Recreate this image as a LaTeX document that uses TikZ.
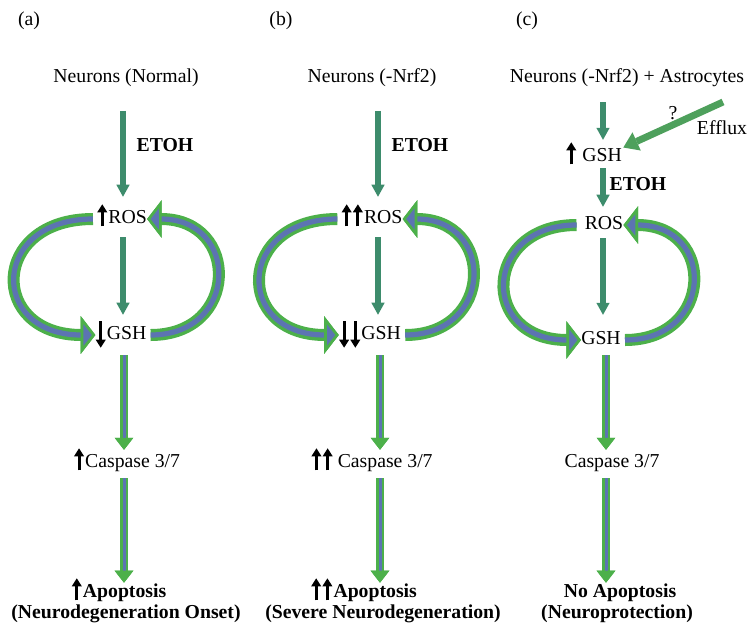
\documentclass[tikz,border=0pt]{standalone}
\usepackage{fontspec}
\setmainfont{Liberation Serif}
\usetikzlibrary{arrows.meta}

\definecolor{thingreen}{RGB}{61,140,108}
\definecolor{fatgreen}{RGB}{76,176,74}
\definecolor{fatblue}{RGB}{92,116,178}
\definecolor{effgreen}{RGB}{78,160,92}

% bold black up / down marks put in front of a label
\newcommand{\upar}{\tikz[baseline=0pt]\draw[black, line width=2.3pt,
  -{Triangle[length=6pt, width=7.6pt, line width=0pt]}] (0pt,-2pt) -- (0pt,14.5pt);\kern0.8pt}
\newcommand{\dnar}{\tikz[baseline=0pt]\draw[black, line width=2.3pt,
  -{Triangle[length=6pt, width=7.6pt, line width=0pt]}] (0pt,14pt) -- (0pt,-6pt);\kern0.8pt}

\begin{document}
\begin{tikzpicture}[x=0.75pt, y=-0.75pt, line join=miter]

    % one unit is one pixel of the 750 x 633 frame, y grows downwards
    \tikzset{%
      apply style/.code = {\tikzset{#1}},
      lbl/.style        = {inner sep=0pt, text height=10pt, text depth=3pt,
                           font=\fontsize{14.8}{17}\selectfont},
      bold/.style       = {lbl, font=\fontsize{14.8}{17}\selectfont\bfseries},
      thinarr/.style    = {line width=4.5pt, draw=thingreen,
                           -{Triangle[length=9pt, width=10pt, line width=0pt]}},
      fatarr/.style     = {line width=6pt, draw=fatgreen,
                           -{Triangle[length=9pt, width=14pt, line width=0pt, color=fatgreen, fill=fatgreen]}},
      fatcore/.style    = {fatarr, line width=2.25pt, draw=fatblue},
      looparr/.style    = {line width=9pt, draw=fatgreen,
                           -{Triangle[length=11pt, width=28pt, line width=2pt, color=fatgreen, fill=fatblue]}},
      loopcore/.style   = {looparr, line width=3.9pt, draw=fatblue},
      effluxarr/.style  = {line width=5.2pt, draw=effgreen,
                           -{Triangle[length=11pt, width=15pt, line width=0pt]}}
    }

    \useasboundingbox (0,0) rectangle (750,633);

    % columns of the straight arrows
    \coordinate (colA) at (123,0);
    \coordinate (fatA) at (124,0);
    \coordinate (colB) at (378,0);
    \coordinate (fatB) at (380,0);
    \coordinate (colC) at (603,0);
    \coordinate (fatC) at (606,0);

    % (a) normal neurons
    \node[lbl]  (labA)  at (29,21)   {(a)};
    \node[lbl]  (srcA)  at (126,78)  {Neurons (Normal)};
    \node[bold] (etohA) at (165,147) {ETOH};
    \node[lbl]  (rosA)  at (122,219) {\upar ROS};
    \node[lbl]  (gshA)  at (121,335) {\dnar GSH};
    \node[lbl]  (caspA) at (127,463) {\upar Caspase 3/7};
    \node[bold] (apoA)  at (119,593) {\upar Apoptosis};
    \node[bold] (outA)  at (126,614) {(Neurodegeneration Onset)};

    % (b) neurons without Nrf2
    \node[lbl]  (labB)  at (281,21)  {(b)};
    \node[lbl]  (srcB)  at (372,78)  {Neurons (-Nrf2)};
    \node[bold] (etohB) at (420,147) {ETOH};
    \node[lbl]  (rosB)  at (372,219) {\upar\upar ROS};
    \node[lbl]  (gshB)  at (370,335) {\dnar\dnar GSH};
    \node[lbl]  (caspB) at (372,463) {\upar\upar\kern3pt Caspase 3/7};
    \node[bold] (apoB)  at (364,593) {\upar\upar Apoptosis};
    \node[bold] (outB)  at (383,614) {(Severe Neurodegeneration)};

    % (c) neurons without Nrf2, with astrocytes
    \node[lbl]  (labC)    at (527,21)  {(c)};
    \node[lbl]  (srcC)    at (627,78)  {Neurons (-Nrf2) + Astrocytes};
    \node[lbl]  (gshtopC) at (594,157) {\upar\ GSH};
    \node[lbl]  (qC)      at (673,115) {?};
    \node[lbl]  (effC)    at (722,130) {Efflux};
    \node[bold] (etohC)   at (638,186) {ETOH};
    \node[lbl]  (rosC)    at (604,225) {ROS};
    \node[lbl]  (gshC)    at (601,340) {GSH};
    \node[lbl]  (caspC)   at (612,463) {Caspase 3/7};
    \node[bold] (apoC)    at (620,593) {No Apoptosis};
    \node[bold] (outC)    at (617,614) {(Neuroprotection)};

    % thin arrows
    \draw[thinarr, shorten <=18pt, shorten >=10pt] (srcA.south -| colA) -- (rosA.north -| colA);
    \draw[thinarr, shorten <=7pt, shorten >=8.5pt] (rosA.south -| colA) -- (gshA.north -| colA);
    \draw[thinarr, shorten <=18pt, shorten >=10pt] (srcB.south -| colB) -- (rosB.north -| colB);
    \draw[thinarr, shorten <=7pt, shorten >=8.5pt] (rosB.south -| colB) -- (gshB.north -| colB);
    \draw[thinarr, shorten <=11.5pt, shorten >=6.2pt] (srcC.south -| colC) -- (gshtopC.north -| colC);
    \draw[thinarr, shorten <=1.7pt, shorten >=7pt] (gshtopC.south -| colC) -- (rosC.north -| colC);
    \draw[thinarr, shorten <=3.2pt, shorten >=12.2pt] (rosC.south -| colC) -- (gshC.north -| colC);

    % efflux from the astrocytes
    \coordinate (effT) at (723,102);
    \draw[effluxarr, shorten >=1pt] (effT) -- (gshtopC.north east);

    % green arrows with blue core, drawn in two passes
    \foreach \pass in {fatarr, fatcore}{
      \draw[apply style/.expand once=\pass, shorten <=8.5pt, shorten >=3.2pt] (gshA.south -| fatA) -- (caspA.north -| fatA);
      \draw[apply style/.expand once=\pass, shorten <=4.7pt, shorten >=1pt]   (caspA.south -| fatA) -- (apoA.north -| fatA);
      \draw[apply style/.expand once=\pass, shorten <=8.5pt, shorten >=3.2pt] (gshB.south -| fatB) -- (caspB.north -| fatB);
      \draw[apply style/.expand once=\pass, shorten <=4.7pt, shorten >=1pt]   (caspB.south -| fatB) -- (apoB.north -| fatB);
      \draw[apply style/.expand once=\pass, shorten <=4.7pt, shorten >=3.2pt] (gshC.south -| fatC) -- (caspC.north -| fatC);
      \draw[apply style/.expand once=\pass, shorten <=4.7pt, shorten >=1pt]   (caspC.south -| fatC) -- (apoC.north -| fatC);
    }

    % the ROS / GSH cycles
    \foreach \pass in {looparr, loopcore}{
      \draw[apply style/.expand once=\pass, shorten <=3pt] (rosA.west) .. controls +(-107,0) and +(-107,0) .. (gshA.west);
      \draw[apply style/.expand once=\pass, shorten <=3pt] (gshA.east) .. controls +(93,0) and +(93,0) .. (rosA.east);
      \draw[apply style/.expand once=\pass, shorten <=3pt] (rosB.west) .. controls +(-105,0) and +(-105,0) .. (gshB.west);
      \draw[apply style/.expand once=\pass, shorten <=3pt] (gshB.east) .. controls +(93,0) and +(93,0) .. (rosB.east);
      \draw[apply style/.expand once=\pass, shorten <=6pt] (rosC.west) .. controls +(-102,0) and +(-102,0) .. (gshC.west);
      \draw[apply style/.expand once=\pass, shorten <=3pt] (gshC.east) .. controls +(93,0) and +(93,0) .. (rosC.east);
    }

\end{tikzpicture}
\end{document}
